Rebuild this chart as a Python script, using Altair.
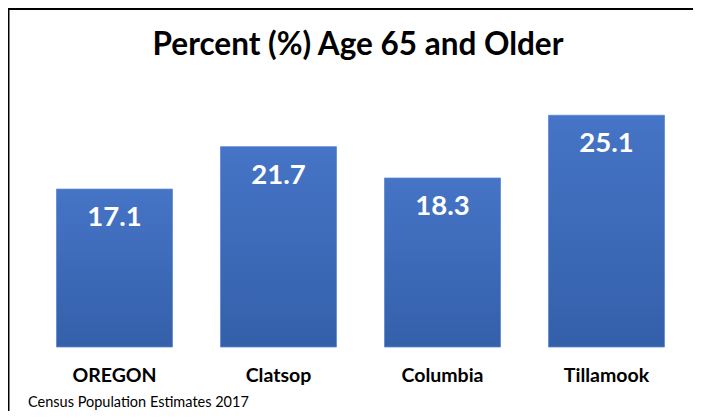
import altair as alt
import pandas as pd

categories = ["OREGON", "Clatsop", "Columbia", "Tillamook"]
values = [17.1, 21.7, 18.3, 25.1]
title_text = "Percent (%) Age 65 and Older"
source_text = "Census Population Estimates 2017"

df = pd.DataFrame({"area": categories, "pct": values})
one = pd.DataFrame({"t": [title_text], "s": [source_text]})

FONT = "Lato"

x_enc = alt.X(
    "area:N",
    sort=categories,
    title=None,
    scale=alt.Scale(paddingInner=0.293, paddingOuter=0.1465),
    axis=alt.Axis(
        domain=False, ticks=False, tickSize=0, labelAngle=0, grid=False,
        labelFont=FONT, labelFontSize=19.5, labelFontWeight="bold",
        labelColor="#000000", labelPadding=19,
    ),
)
y_enc = alt.Y("pct:Q", scale=alt.Scale(domain=[0, 30], nice=False, zero=True), axis=None)

grad = alt.Gradient(
    gradient="linear",
    stops=[alt.GradientStop(color="#4674C6", offset=0),
           alt.GradientStop(color="#3460AA", offset=1)],
    x1=0, x2=0, y1=0, y2=1,
)

bars = alt.Chart(df).mark_bar(color=grad, stroke="#5A86D2", strokeWidth=0.8).encode(
    x=x_enc, y=y_enc
)

labels = alt.Chart(df).mark_text(
    font=FONT, fontSize=27.5, fontWeight="bold", color="white",
    baseline="alphabetic", align="center", dy=37,
).encode(x=alt.X("area:N", sort=categories), y="pct:Q", text=alt.Text("pct:Q", format=".1f"))

title = alt.Chart(one).mark_text(
    font=FONT, fontSize=31.5, fontWeight="bold", color="#000000",
    baseline="alphabetic", align="center",
).encode(x=alt.value(325.5), y=alt.value(-15), text="t:N")

source = alt.Chart(one).mark_text(
    font=FONT, fontSize=14.5, color="#000000",
    baseline="alphabetic", align="left",
).encode(x=alt.value(-4.5), y=alt.value(336.5), text="s:N")

left_line = alt.Chart(one).mark_rule(color="#000000", strokeWidth=2).encode(
    x=alt.value(-24), y=alt.value(-62), y2=alt.value(349)
)
top_line = alt.Chart(one).mark_rule(color="#000000", strokeWidth=2).encode(
    x=alt.value(-25), x2=alt.value(700), y=alt.value(-61)
)

chart = alt.layer(bars, labels, title, source, left_line, top_line).properties(
    width=656,
    height=277,
    autosize=alt.AutoSizeParams(type="none"),
    padding={"left": 24.5, "top": 62, "right": 4, "bottom": 64},
    background="white",
).configure_view(stroke=None)

chart.save("out.html", embed_options={"renderer": "svg", "actions": False})
